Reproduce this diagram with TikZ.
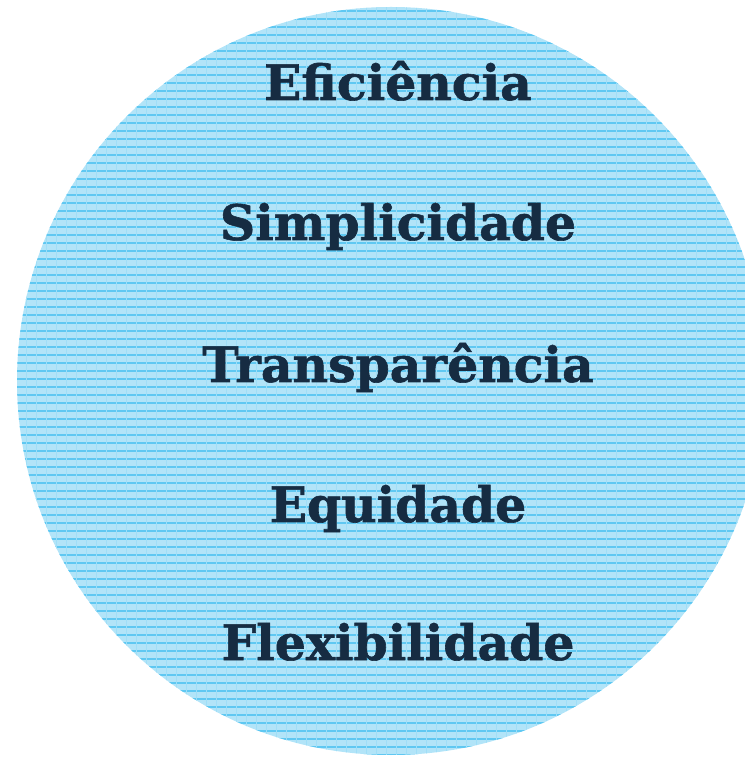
\documentclass[tikz,border=0pt]{standalone}
\usepackage{fontspec}
\newfontfamily\valuefont[BoldFeatures={FakeBold=1.2}]{DejaVu Serif}
\definecolor{discblue}{RGB}{178,228,248}
\definecolor{gridblue}{RGB}{95,200,242}
\definecolor{valuenavy}{RGB}{22,44,66}
\begin{document}
\begin{tikzpicture}[value/.style={anchor=base, text=valuenavy, font=\valuefont\bfseries\fontsize{13.9}{16}\selectfont}]

		\useasboundingbox (0,0) rectangle (7.45,7.59);
		\clip (0,0) rectangle (7.45,7.59);

		\fill[discblue] (3.91,3.78) circle (3.74);
		\begin{scope}
		\clip (3.91,3.78) circle (3.74);
		\foreach \y in {0.04,0.12,...,7.6}
			\draw[gridblue, line width=0.3pt] (0,\y) -- (7.45,\y);
		\foreach \x in {0.06,0.16,...,7.45}
			\draw[gridblue!60, line width=0.25pt] (\x,0) -- (\x,7.59);
		\end{scope}

		\node[value] (eff) at (3.98,6.59) {Eficiência};
		\node[value] (simp) at (3.98,5.19) {Simplicidade};
		\node[value] (transp) at (3.98,3.77) {Transparência};
		\node[value] (equi) at (3.98,2.37) {Equidade};
		\node[value] (flex) at (3.98,0.99) {Flexibilidade};

		\end{tikzpicture}
\end{document}
